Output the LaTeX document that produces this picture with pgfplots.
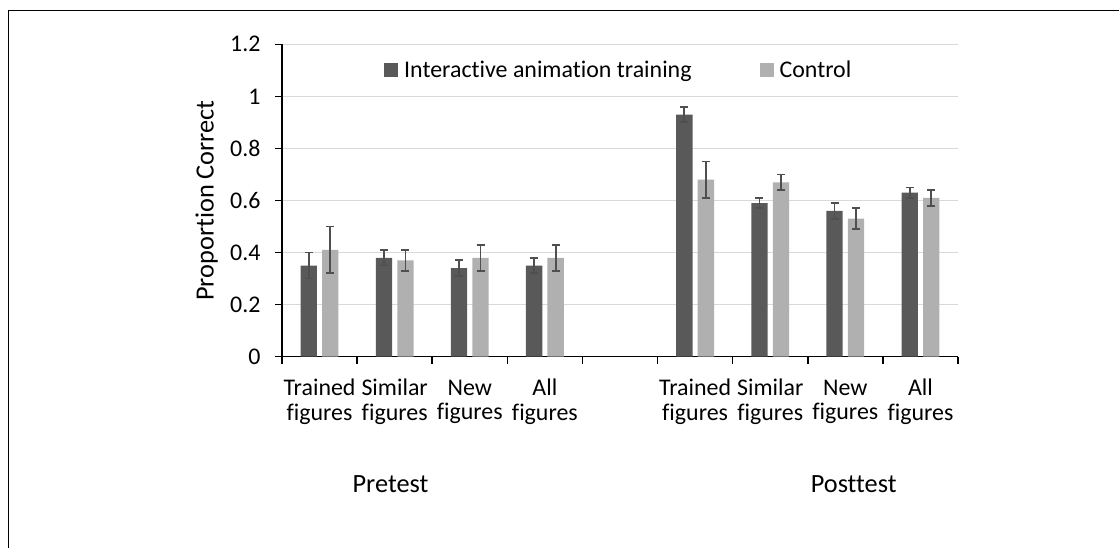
\documentclass[border=0pt]{standalone}
\usepackage{fontspec}
\setmainfont[Ligatures=NoCommon]{Carlito}
\usepackage{pgfplots}
\pgfplotsset{compat=1.18}
\definecolor{darkbar}{HTML}{595959}
\definecolor{lightbar}{HTML}{B0B0B0}
\definecolor{gridc}{HTML}{D9D9D9}
\definecolor{errc}{HTML}{4F4F4F}
\begin{document}
\begin{tikzpicture}[x=1bp,y=1bp,font=\fontsize{24}{22.7}\selectfont]
\useasboundingbox (0,0) rectangle (1119,548);
\draw[line width=1.5bp] (8.5,0) -- (8.5,537.3) -- (1119,537.3);
\begin{axis}[
  at={(282bp,191.3bp)}, anchor=south west,
  scale only axis, width=676bp, height=312.4bp,
  xmin=-0.5, xmax=8.5, ymin=0, ymax=1.2,
  ybar=5.2bp, bar width=16.3bp,
  /pgf/number format/assume math mode=true,
  ytick={0,0.2,0.4,0.6,0.8,1,1.2},
  yticklabel style={xshift=-11bp},
  ymajorgrids, grid style={gridc, line width=1.5bp},
  axis lines*=left, axis line style={black,line width=1.5bp},
  tick align=outside, major tick length=7bp, minor tick length=7bp,
  ytick style={black,line width=1.5bp},
  xtick={0,1,2,3,5,6,7,8},
  xticklabels={{\strut Trained\\\strut figures},{\strut Similar\\\strut figures},{\strut New\\\strut figures},{\strut All\\\strut figures},{\strut Trained\\\strut figures},{\strut Similar\\\strut figures},{\strut New\\\strut figures},{\strut All\\\strut figures}},
  xticklabel style={align=center, anchor=north, yshift=-12bp},
  major x tick style={draw=none},
  minor xtick={-0.5,0.5,1.5,2.5,3.5,4.5,5.5,6.5,7.5,8.5},
  minor x tick style={black,line width=1.5bp},
  ylabel={Proportion Correct},
  ylabel style={at={(axis description cs:-0.1114,0.5)}, anchor=center, font=\fontsize{26.4}{26.4}\selectfont},
  legend columns=2,
  legend image code/.code={\fill[#1] (0bp,-7bp) rectangle (14bp,7bp);},
  legend style={draw=none, fill=none, at={(0.1509,0.9187)}, anchor=west,
    inner sep=0pt, column sep=6bp, nodes={inner sep=0pt},
    /tikz/every even column/.append style={column sep=68bp}},
]
\addplot[fill=darkbar, draw=none,
  error bars/.cd, y dir=both, y explicit,
  error bar style={errc, line width=1.8bp},
  error mark options={rotate=90, mark size=4bp, errc, line width=1.8bp}]
  coordinates {
  (0,0.35) +- (0,0.05)
  (1,0.38) +- (0,0.03)
  (2,0.34) +- (0,0.03)
  (3,0.35) +- (0,0.03)
  (5,0.93) +- (0,0.03)
  (6,0.59) +- (0,0.02)
  (7,0.56) +- (0,0.03)
  (8,0.63) +- (0,0.02)
  };
\addplot[fill=lightbar, draw=none,
  error bars/.cd, y dir=both, y explicit,
  error bar style={errc, line width=1.8bp},
  error mark options={rotate=90, mark size=4bp, errc, line width=1.8bp}]
  coordinates {
  (0,0.41) +- (0,0.09)
  (1,0.37) +- (0,0.04)
  (2,0.38) +- (0,0.05)
  (3,0.38) +- (0,0.05)
  (5,0.68) +- (0,0.07)
  (6,0.67) +- (0,0.03)
  (7,0.53) +- (0,0.04)
  (8,0.61) +- (0,0.03)
  };
\legend{Interactive animation training,Control}
\end{axis}
\node[anchor=base,font=\fontsize{26.4}{26.4}\selectfont] at (390.5,55) {Pretest};
\node[anchor=base,font=\fontsize{26.4}{26.4}\selectfont] at (853.7,55) {Posttest};
\end{tikzpicture}
\end{document}
